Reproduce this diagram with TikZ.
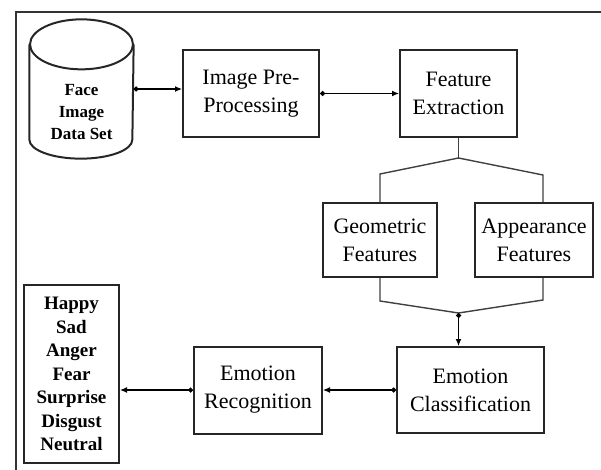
\documentclass[tikz,border=0pt]{standalone}
\usepackage{fontspec}
\setmainfont{Liberation Serif}
\usepackage{tikz}
\usetikzlibrary{arrows.meta}

\begin{document}
\begin{tikzpicture}[x=1pt, y=1pt, line width=1.3pt, node distance=200pt,
    flow/.style={line width=1.2pt, {Circle[length=5pt]}-{Latex[length=7pt,width=6pt]}},
    font=\fontsize{22}{28}\selectfont]

    \tikzstyle{every node}=[align=center]
    \tikzstyle{block}=[draw=black!85, line width=2pt, inner sep=0pt, fill=white]
    \tikzstyle{branch}=[draw=black!75, line width=1.4pt]

    \useasboundingbox (0,0) rectangle (601,469);
    \draw[line width=1.6pt, black!80] (16,-5) -- (16,457) -- (606,457);

    % data set (cylinder drawn on its node)
    \node[minimum width=103pt, minimum height=138pt, inner sep=0pt] (data) at (81.5,380) {};
    \draw[block] ([yshift=-25pt]data.north) ellipse [x radius=51.5pt, y radius=25pt];
    \draw[block, fill=none] ([yshift=-25pt]data.north west) -- ([yshift=19pt]data.south west)
        arc[start angle=180, end angle=360, x radius=51.5pt, y radius=19pt] -- ([yshift=-25pt]data.north east);
    \node[font=\fontsize{17}{22}\selectfont\bfseries] (dataText) at (81.5,357) {Face\\Image\\Data Set};

    % first row
    \node[block, minimum width=136pt, minimum height=87pt] (prep) at (251,375.5) {Image Pre-\\Processing};
    \node[block, minimum width=117pt, minimum height=87pt] (feat) [right of = prep, node distance=207.5pt] {Feature\\Extraction};

    % features
    \node[block, minimum width=114pt, minimum height=74pt] (geo) at (380,229) {Geometric\\Features};
    \node[block, minimum width=118pt, minimum height=74pt] (app) [right of = geo, node distance=154pt] {Appearance\\Features};

    % last row
    \node[block, minimum width=147pt, minimum height=86pt] (cls) at (470.5,79) {Emotion\\Classification};
    \node[block, minimum width=128pt, minimum height=87pt] (rec) [left of = cls, node distance=212.5pt] {Emotion\\Recognition};
    \node[block, minimum width=95pt, minimum height=178pt, font=\fontsize{19}{23.5}\selectfont\bfseries]
          (list) at (71.5,95) {Happy\\Sad\\Anger\\Fear\\Surprise\\Disgust\\Neutral};

    \coordinate (split) at (458.5,311);
    \coordinate (join)  at (458.5,156);

    \draw[flow] (data.east) -- (data.east -| prep.west);
    \path (prep) edge[flow] (feat);

    \draw[branch] (feat.south) -- (split);
    \draw[branch] (geo.north) -- ++(0,28) -- (split) -- ++(84.5,-17) -- ([xshift=9pt]app.north);
    \draw[branch] (geo.south) -- ++(0,-23) -- (join) -- ++(84.5,13) -- ([xshift=9pt]app.south);
    \draw[flow] (join) -- (join |- cls.north);

    \path (cls) edge[flow] (rec);
    \draw[flow] (rec.west) -- (rec.west -| list.east);
\end{tikzpicture}
\end{document}
